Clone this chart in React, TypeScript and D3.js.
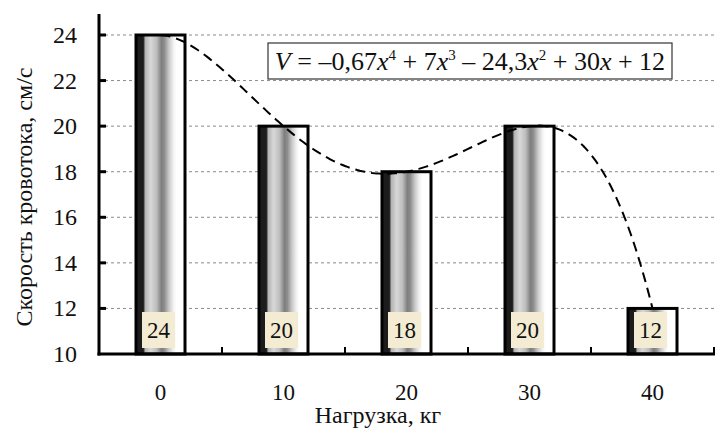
import React from "react";
import * as d3 from "d3";

const categories: string[] = ["0", "10", "20", "30", "40"];
const values: number[] = [24, 20, 18, 20, 12];
const yTicks: number[] = [10, 12, 14, 16, 18, 20, 22, 24];
const yTitle = "Скорость кровотока, см/с";
const xTitle = "Нагрузка, кг";

const W = 726;
const H = 434;
const left = 99;
const right = 714;
const bottom = 354;
const axisTop = 14;

// Interpolating polynomial trendline through the data points (Lagrange form)
function trend(t: number): number {
  let s = 0;
  for (let i = 0; i < values.length; i++) {
    let term = values[i];
    for (let j = 0; j < values.length; j++) {
      if (j !== i) term *= (t - (j + 1)) / ((i + 1) - (j + 1));
    }
    s += term;
  }
  return s;
}

const FONT = "Liberation Serif";

function T(props: any) {
  const { children, style, ...rest } = props;
  return (
    <text fontFamily={FONT} fill="#111" {...rest} style={{ fontFamily: FONT, ...(style || {}) }}>
      {children}
    </text>
  );
}

export default function App() {
  const x = d3.scaleBand<string>().domain(categories).range([left, right]).padding(0);
  const y = d3.scaleLinear().domain([10, 24]).range([bottom, 35]);
  const bw = x.bandwidth();
  const barW = 49;
  const center = (c: string) => (x(c) as number) + bw / 2;

  const tx = d3
    .scaleLinear()
    .domain([1, values.length])
    .range([center(categories[0]), center(categories[categories.length - 1])]);
  const samples = d3.range(1, values.length + 0.0001, 0.02);
  const line = d3
    .line<number>()
    .x((t) => tx(t))
    .y((t) => y(trend(t)))
    .curve(d3.curveLinear);

  return (
    <svg
      width={W}
      height={H}
      fontFamily={FONT}
      style={{ position: "absolute", left: 0, top: 0, fontFamily: FONT }}
    >
      <defs>
        <linearGradient id="barGrad" x1="0" x2="1" y1="0" y2="0">
          <stop offset="0" stopColor="#1c1c1c" />
          <stop offset="0.15" stopColor="#1c1c1c" />
          <stop offset="0.19" stopColor="#b4b4b4" />
          <stop offset="0.3" stopColor="#d8d8d8" />
          <stop offset="0.42" stopColor="#bdbdbd" />
          <stop offset="0.52" stopColor="#7e7e7e" />
          <stop offset="0.58" stopColor="#8e8e8e" />
          <stop offset="0.67" stopColor="#c8c8c8" />
          <stop offset="0.76" stopColor="#f0f0f0" />
          <stop offset="0.82" stopColor="#ffffff" />
          <stop offset="1" stopColor="#ffffff" />
        </linearGradient>
      </defs>
      <rect x={0} y={0} width={W} height={H} fill="#fff" />

      {/* gridlines */}
      {yTicks
        .filter((t) => t > 10)
        .map((t) => (
          <line
            key={"g" + t}
            x1={left}
            x2={right}
            y1={y(t)}
            y2={y(t)}
            stroke="#8a8a8a"
            strokeWidth={1}
            strokeDasharray="3,3"
          />
        ))}

      {/* bars */}
      {categories.map((c, i) => (
        <rect
          key={"b" + c}
          x={center(c) - barW / 2}
          y={y(values[i])}
          width={barW}
          height={bottom - y(values[i])}
          fill="url(#barGrad)"
          stroke="#000"
          strokeWidth={3}
        />
      ))}

      {/* value labels */}
      {categories.map((c, i) => (
        <g key={"l" + c}>
          <rect x={center(c) - 2 - 16.5} y={312} width={33} height={36} fill="#f4ebd3" />
          <T x={center(c) - 2} y={338} textAnchor="middle" fontSize={23}>
            {values[i]}
          </T>
        </g>
      ))}

      {/* trendline */}
      <path
        d={line(samples) || ""}
        fill="none"
        stroke="#000"
        strokeWidth={2}
        strokeDasharray="10,6"
      />

      {/* axes */}
      <line x1={left} x2={left} y1={axisTop} y2={bottom + 1.5} stroke="#000" strokeWidth={3} />
      <line x1={left - 1.5} x2={right + 1} y1={bottom} y2={bottom} stroke="#000" strokeWidth={3} />
      {yTicks
        .filter((t) => t > 10)
        .map((t) => (
          <line key={"yt" + t} x1={left} x2={left + 7} y1={y(t)} y2={y(t)} stroke="#000" strokeWidth={3} />
        ))}
      {categories.map((c) => (
        <line
          key={"xt" + c}
          x1={(x(c) as number) + bw}
          x2={(x(c) as number) + bw}
          y1={bottom}
          y2={bottom - 7}
          stroke="#000"
          strokeWidth={2}
        />
      ))}

      {/* y tick labels */}
      {yTicks.map((t) => (
        <T key={"yl" + t} x={77} y={y(t) + 8} textAnchor="end" fontSize={24}>
          {t}
        </T>
      ))}
      {/* x tick labels */}
      {categories.map((c) => (
        <T key={"xl" + c} x={center(c)} y={400} textAnchor="middle" fontSize={23}>
          {c}
        </T>
      ))}

      {/* axis titles */}
      <T x={378} y={423} textAnchor="middle" fontSize={24}>
        {xTitle}
      </T>
      <T transform={`translate(32, 197) rotate(-90)`} textAnchor="middle" fontSize={24}>
        {yTitle}
      </T>

      {/* equation box */}
      <rect x={268} y={43} width={404} height={36} fill="#fff" stroke="#333" strokeWidth={1.2} />
      <T x={470} y={70} textAnchor="middle" fontSize={26}>
        <tspan fontStyle="italic">V</tspan>
        <tspan> = –0,67</tspan>
        <tspan fontStyle="italic">x</tspan>
        <tspan fontSize={15} dy={-10}>4</tspan>
        <tspan dy={10}> + 7</tspan>
        <tspan fontStyle="italic">x</tspan>
        <tspan fontSize={15} dy={-10}>3</tspan>
        <tspan dy={10}> – 24,3</tspan>
        <tspan fontStyle="italic">x</tspan>
        <tspan fontSize={15} dy={-10}>2</tspan>
        <tspan dy={10}> + 30</tspan>
        <tspan fontStyle="italic">x</tspan>
        <tspan> + 12</tspan>
      </T>
    </svg>
  );
}
